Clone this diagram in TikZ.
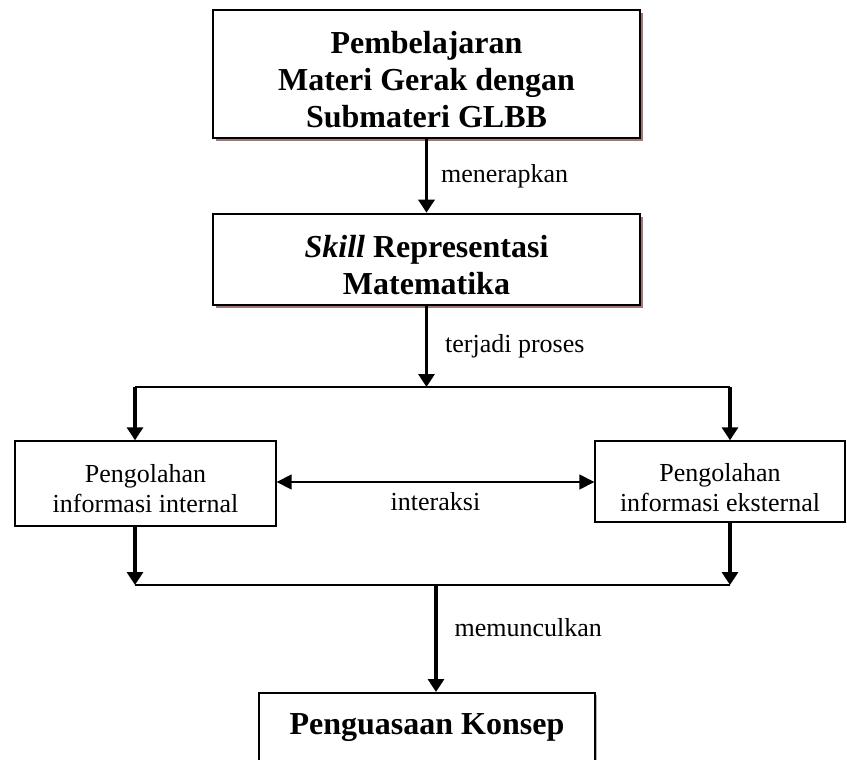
\documentclass[tikz,border=0pt]{standalone}
\usepackage{fontspec}
\setmainfont{Liberation Serif}
\usetikzlibrary{arrows.meta,shadows}
\definecolor{shadowbrown}{RGB}{160,118,118}
% box text sits a little low, as in the original
\newcommand{\droptext}[2]{\raisebox{-#1}[\height][\depth]{\begin{tabular}{@{}c@{}}#2\end{tabular}}}

\tikzset{
  bigbox/.style={draw, line width=2.6pt, fill=white, inner sep=0pt,
    font=\fontsize{32}{37}\selectfont\bfseries,
    drop shadow={shadow xshift=3pt, shadow yshift=-3pt, fill=shadowbrown, opacity=1}},
  smallbox/.style={draw, line width=1.4pt, fill=white, inner sep=0pt,
    font=\fontsize{26}{30}\selectfont},
  arr/.style={line width=3.2pt, -{Triangle[length=13pt,width=16pt]}},
  twoway/.style={line width=1.6pt, {Triangle[length=15pt,width=15pt]}-{Triangle[length=15pt,width=15pt]}},
  link/.style={line width=2pt},
  lbl/.style={font=\fontsize{26}{30}\selectfont, inner sep=2pt}
}

\begin{document}
\begin{tikzpicture}[x=1pt, y=-1pt]
    \useasboundingbox (0,0) rectangle (847,760);

    \node [bigbox, minimum width=427pt, minimum height=128pt] (belajar) at (426.5,74)
        {\droptext{9pt}{Pembelajaran\\Materi Gerak dengan\\Submateri GLBB}};
    \node [bigbox, minimum width=427pt, minimum height=91pt] (skill) at (426.5,259.5)
        {\droptext{9pt}{\textit{Skill} Representasi\\Matematika}};
    \node [smallbox, minimum width=261pt, minimum height=85pt] (intern) at (145.5,483.5)
        {\droptext{8pt}{Pengolahan\\informasi internal}};
    \node [smallbox, minimum width=250pt, minimum height=81pt] (ekstern) at (720,481.5)
        {\droptext{9pt}{Pengolahan\\informasi eksternal}};
    \node [draw, line width=2.4pt, fill=white, inner sep=0pt, anchor=north,
        minimum width=336pt, text height=41pt, text depth=80pt,
        font=\fontsize{32}{37}\selectfont\bfseries,
        drop shadow={shadow xshift=2pt, shadow yshift=-2pt, fill=gray!60, opacity=1}]
        (konsep) at (427,692) {Penguasaan Konsep};

    \coordinate (split) at (426.5,387);
    \coordinate (splitL) at (135,387);
    \coordinate (splitR) at (730,387);
    \coordinate (join) at (436,585);
    \coordinate (joinL) at (135,585);
    \coordinate (joinR) at (730,585);

    \draw [arr] (belajar) -- (skill) node [midway, right=11pt, lbl] {menerapkan};
    \draw [arr] (skill) -- (split) node [midway, right=15pt, lbl] {terjadi proses};
    \draw [link] (splitL) -- (splitR);
    \draw [arr] (splitL) -- (splitL |- intern.north);
    \draw [arr] (splitR) -- (splitR |- ekstern.north);

    \draw [twoway] (intern.east |- 0,482) -- (ekstern.west |- 0,482)
        node [midway, below=8pt, lbl] {interaksi};

    \draw [arr] (joinL |- intern.south) -- (joinL);
    \draw [arr] (joinR |- ekstern.south) -- (joinR);
    \draw [link] (joinL) -- (joinR);
    \draw [arr] (join) -- (join |- konsep.north) node [pos=0.4, right=15pt, lbl] {memunculkan};
\end{tikzpicture}
\end{document}
